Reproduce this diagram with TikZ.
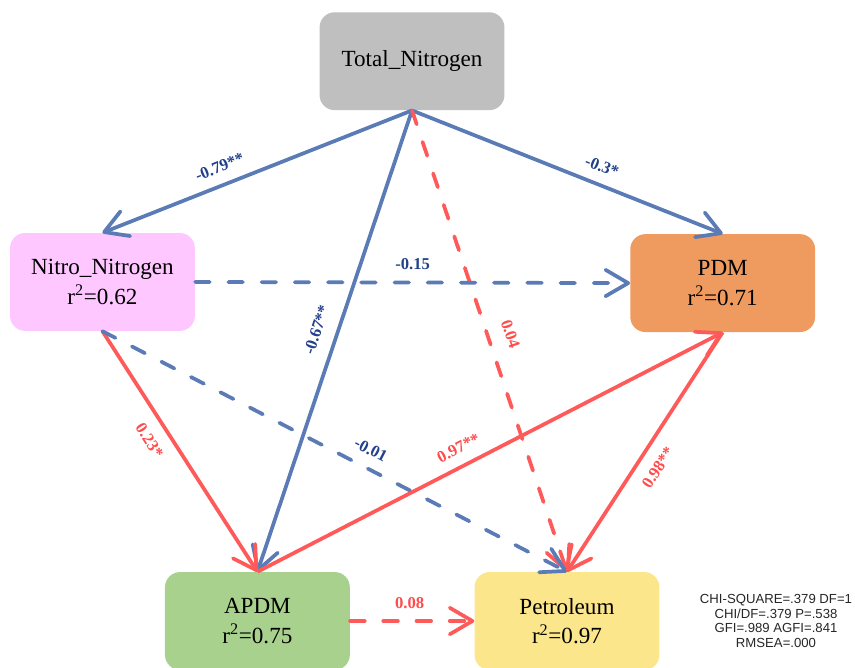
\documentclass[tikz,border=0pt]{standalone}
\usepackage{fontspec}
\setmainfont{Liberation Serif}
\setsansfont{Liberation Sans}
\usetikzlibrary{arrows.meta}
\definecolor{steel}{HTML}{5A7BB6}
\definecolor{coral}{HTML}{FF5A5A}
\definecolor{navy}{HTML}{22408C}
\definecolor{coraltx}{HTML}{FF4B4B}
\definecolor{greybg}{HTML}{BFBFBF}
\definecolor{pinkbg}{HTML}{FFC7FF}
\definecolor{orangebg}{HTML}{EF9A5F}
\definecolor{greenbg}{HTML}{A9D18E}
\definecolor{yellowbg}{HTML}{FCE68C}
\newcommand{\rsq}[1]{r\textsuperscript{2}=#1}
\tikzset{
  box/.style  ={draw=none, rounded corners=4mm, minimum width=48.9mm, minimum height=25.9mm, align=center, font=\fontsize{17.4}{22}\selectfont},
  boxg/.style ={box, fill=greybg},
  boxp/.style ={box, fill=pinkbg},
  boxo/.style ={box, fill=orangebg},
  boxgr/.style={box, fill=greenbg},
  boxy/.style ={box, fill=yellowbg},
  ln/.style   ={draw=steel, line width=2.8pt, -{Straight Barb[length=6mm,width=7mm,round]}},
  lnd/.style  ={ln, line cap=round, dash pattern=on 11pt off 14pt},
  lr/.style   ={draw=coral, line width=2.8pt, -{Straight Barb[length=6mm,width=7mm,round]}},
  lrd/.style  ={lr, line cap=round, dash pattern=on 11pt off 14pt},
  tagb/.style ={font=\fontsize{12.5}{14}\selectfont\bfseries, text=navy, sloped, inner sep=8pt},
  tagr/.style ={font=\fontsize{12.5}{14}\selectfont\bfseries, text=coraltx, sloped, inner sep=8pt},
  fitlbl/.style={font=\sffamily\fontsize{9.9}{11}\selectfont, align=center, text=black!85, inner sep=0pt},
}
\begin{document}
\begin{tikzpicture}
    \useasboundingbox (0,0) rectangle (22.62,17.65);
    \node[boxg]  (tn)   at (10.90,16.03) {Total\_Nitrogen};
    \node[boxp]  (nn)   at (2.71,10.19)  {Nitro\_Nitrogen\\\rsq{0.62}};
    \node[boxo]  (pdm)  at (19.12,10.16) {PDM\\\rsq{0.71}};
    \node[boxgr] (apdm) at (6.81,1.22)   {APDM\\\rsq{0.75}};
    \node[boxy]  (pet)  at (15.00,1.22)  {Petroleum\\\rsq{0.97}};
    \node[fitlbl] (fitidx) at (20.53,1.22)
      {CHI-SQUARE=.379 DF=1\\CHI/DF=.379 P=.538\\GFI=.989 AGFI=.841\\RMSEA=.000};

    \draw[ln]  (tn.south) -- node[tagb,pos=.6,above]  {-0.79**} (nn.north);
    \draw[ln]  (tn.south) -- node[tagb,pos=.59,above] {-0.3*} (pdm.north);
    \draw[ln]  (tn.south) -- node[tagb,pos=.49,above,inner sep=10pt] {-0.67**} (apdm.north);
    \draw[lrd] (tn.south) -- node[tagr,pos=.5,above,inner sep=11pt]  {0.04} (pet.north);
    \draw[lnd] (nn.east)  -- node[tagb,pos=.5,above]  {-0.15} (pdm.west);
    \draw[lr]  (nn.south) -- node[tagr,pos=.41,below,inner sep=9pt] {0.23*} (apdm.north);
    \draw[lnd] (nn.south) -- node[tagb,pos=.56,above] {-0.01} (pet.north);
    \draw[lr]  (apdm.north) -- node[tagr,pos=.45,above] {0.97**} (pdm.south);
    \draw[lr]  (pdm.south) -- node[tagr,pos=.52,below,inner sep=9pt] {0.98**} (pet.north);
    \draw[lrd] (apdm.east) -- node[tagr,pos=.48,above] {0.08} (pet.west);
  \end{tikzpicture}
\end{document}
